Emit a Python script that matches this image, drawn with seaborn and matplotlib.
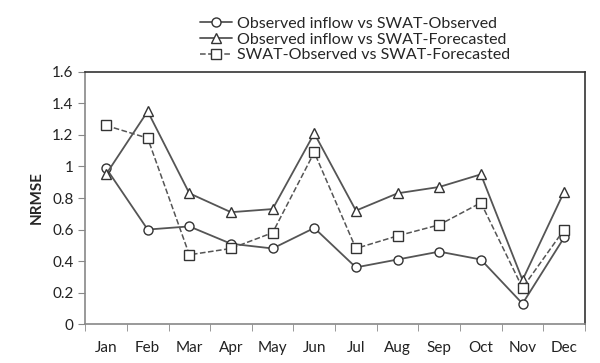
import numpy as np
import pandas as pd
import seaborn as sns
import matplotlib
matplotlib.use('Agg')
import matplotlib.pyplot as plt
from matplotlib.ticker import FixedLocator

months = ['Jan', 'Feb', 'Mar', 'Apr', 'May', 'Jun', 'Jul', 'Aug', 'Sep', 'Oct', 'Nov', 'Dec']
obs_vs_swat_obs = [0.99, 0.60, 0.62, 0.51, 0.48, 0.61, 0.36, 0.41, 0.46, 0.41, 0.13, 0.55]
obs_vs_swat_fc = [0.95, 1.35, 0.83, 0.71, 0.73, 1.21, 0.72, 0.83, 0.87, 0.95, 0.28, 0.84]
swat_obs_vs_fc = [1.26, 1.18, 0.44, 0.48, 0.58, 1.09, 0.48, 0.56, 0.63, 0.77, 0.23, 0.60]
y_ticks = [0, 0.2, 0.4, 0.6, 0.8, 1.0, 1.2, 1.4, 1.6]
y_labels = ['0', '0.2', '0.4', '0.6', '0.8', '1', '1.2', '1.4', '1.6']

sns.set_style('white')
plt.rcParams['font.family'] = ['Lato', 'DejaVu Sans']

fig = plt.figure(figsize=(6, 3.63), dpi=100)
ax = fig.add_axes([0.142, 0.107, 0.833, 0.695])

x = np.arange(len(months))
series = [
    ('Observed inflow vs SWAT-Observed', obs_vs_swat_obs, 'o', '-'),
    ('Observed inflow vs SWAT-Forecasted', obs_vs_swat_fc, '^', '-'),
    ('SWAT-Observed vs SWAT-Forecasted', swat_obs_vs_fc, 's', '--'),
]
for name, vals, mk, ls in series:
    if ls == '--':
        kw = dict(dashes=(2.5, 1.5), linewidth=1.1)
    else:
        kw = dict(linewidth=1.3)
    sns.lineplot(x=x, y=vals, ax=ax, label=name, color='#555555',
                 linestyle=ls, marker=mk, markersize=6.5, markerfacecolor='white',
                 markeredgecolor='#333333', markeredgewidth=1.0, **kw)

ax.set_xlim(-0.5, 11.5)
ax.set_ylim(0, 1.6)
ax.set_yticks(y_ticks)
ax.set_yticklabels(y_labels)
ax.set_xticks(x)
ax.set_xticklabels(months)
ax.xaxis.set_minor_locator(FixedLocator(np.arange(-0.5, 12, 1)))
ax.tick_params(axis='x', which='major', length=0, pad=12, labelsize=11, colors='#222222')
ax.tick_params(axis='x', which='minor', length=5, color='#888888', direction='out', bottom=True)
ax.tick_params(axis='y', length=5, color='#888888', direction='out', left=True, labelsize=11, colors='#222222')
ax.set_ylabel('NRMSE', fontsize=11, fontweight='bold', labelpad=6)
ax.set_xlabel('')

for side in ['left', 'bottom']:
    ax.spines[side].set_color('#888888')
    ax.spines[side].set_linewidth(1.2)
for side in ['top', 'right']:
    ax.spines[side].set_color('#333333')
    ax.spines[side].set_linewidth(1.2)

ax.legend(loc='lower center', bbox_to_anchor=(0.54, 1.0), frameon=False, fontsize=11.5,
          handlelength=2.0, labelspacing=0.1, handletextpad=0.3, borderpad=0.1)

fig.savefig('out.png', dpi=100)
